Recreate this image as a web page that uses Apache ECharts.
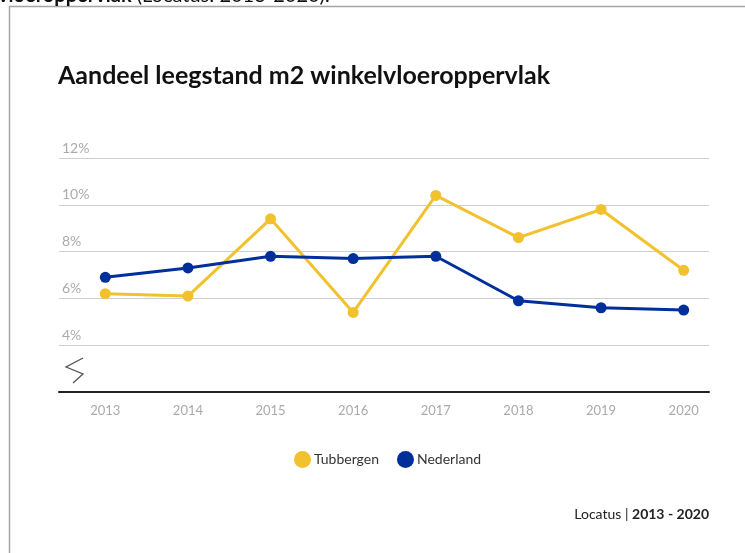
<!DOCTYPE html>
<html>
<head>
<meta charset="utf-8">
<script src="https://cdn.jsdelivr.net/npm/echarts@6/dist/echarts.min.js"></script>
<style>
	html,body{margin:0;padding:0;background:#fff;}
	#chart{width:745px;height:553px;}
</style>
</head>
<body>
<div id="chart"></div>
<script>
	// 数据
	var years = ['2013','2014','2015','2016','2017','2018','2019','2020'];
	var tubbergen = [6.2, 6.1, 9.4, 5.4, 10.4, 8.6, 9.8, 7.2];
	var nederland = [6.9, 7.3, 7.8, 7.7, 7.8, 5.9, 5.6, 5.5];
	var yTicks = [2, 4, 6, 8, 10, 12];

	var font = 'Lato, "Noto Sans", sans-serif';
	var myChart = echarts.init(document.getElementById('chart'));
	var option = {
		animation: false,
		color: ['#f2c12e', '#002f9b'],
		textStyle: {fontFamily: font},
		grid: [
			{left: 59, right: 36, top: 158, bottom: 161},
			{left: 64, right: 20, top: 158, bottom: 161}
		],
		legend: {
			top: 446,
			left: 289,
			icon: 'circle',
			itemWidth: 17,
			itemHeight: 17,
			itemGap: 18,
			textStyle: {color: '#333', fontSize: 14, fontFamily: font, padding: [0, 0, 0, -2]},
			data: ['Tubbergen', 'Nederland']
		},
		xAxis: [{
			gridIndex: 0,
			type: 'value',
			min: 0, max: 1,
			axisLine: {show: true, lineStyle: {color: '#222', width: 2}},
			axisTick: {show: false},
			axisLabel: {show: false},
			splitLine: {show: false}
		}, {
			gridIndex: 1,
			type: 'category',
			boundaryGap: true,
			data: years,
			axisLine: {show: false},
			axisTick: {show: false},
			axisLabel: {color: '#aaa', fontSize: 13, margin: 12}
		}],
		yAxis: [{
			gridIndex: 0,
			type: 'value',
			min: yTicks[0],
			max: yTicks[yTicks.length - 1],
			interval: 2,
			axisLine: {show: false},
			axisTick: {show: false},
			axisLabel: {
				inside: true,
				margin: 3,
				verticalAlign: 'bottom',
				color: '#aaa',
				fontSize: 14,
				padding: [0, 0, 3, 0],
				formatter: function (v) { return v === yTicks[0] ? '' : v + '%'; }
			},
			splitLine: {lineStyle: {color: '#cfcfcf', width: 1}}
		}, {
			gridIndex: 1,
			type: 'value',
			min: yTicks[0],
			max: yTicks[yTicks.length - 1],
			show: false
		}],
		series: [{
			name: 'Tubbergen',
			type: 'line',
			xAxisIndex: 1,
			yAxisIndex: 1,
			data: tubbergen,
			symbol: 'circle',
			symbolSize: 11,
			lineStyle: {width: 3}
		}, {
			name: 'Nederland',
			type: 'line',
			xAxisIndex: 1,
			yAxisIndex: 1,
			data: nederland,
			symbol: 'circle',
			symbolSize: 11,
			lineStyle: {width: 3}
		}],
		graphic: [
			// 外框
			{type: 'rect', shape: {x: 9.5, y: 6.5, width: 800, height: 600},
				style: {fill: 'none', stroke: '#a5a5a5', lineWidth: 1.5}, silent: true},
			// 上方被截断的文字
			{type: 'text', left: -2, top: -14,
				style: {
					text: '{b|vloeroppervlak} (Locatus: 2013-2020).',
					font: '20px ' + font, fill: '#111',
					rich: {b: {fontWeight: 'bold', fontSize: 20, fontFamily: font}}
				}},
			// 标题
			{type: 'text', left: 58, top: 63,
				style: {text: 'Aandeel leegstand m2 winkelvloeroppervlak',
					font: 'bold 25px ' + font, fill: '#111'}},
			// 断轴符号
			{type: 'polyline', shape: {points: [[83, 358], [66, 367], [83, 374], [73, 383]]},
				style: {stroke: '#555', lineWidth: 1.3, fill: 'none'}},
			// 来源
			{type: 'text', right: 36, top: 507,
				style: {text: 'Locatus | {b|2013 - 2020}',
					font: '14px ' + font, fill: '#222',
					rich: {b: {fontWeight: 'bold', fontSize: 14, fontFamily: font}}}}
		]
	};
	myChart.setOption(option);
</script>
</body>
</html>
